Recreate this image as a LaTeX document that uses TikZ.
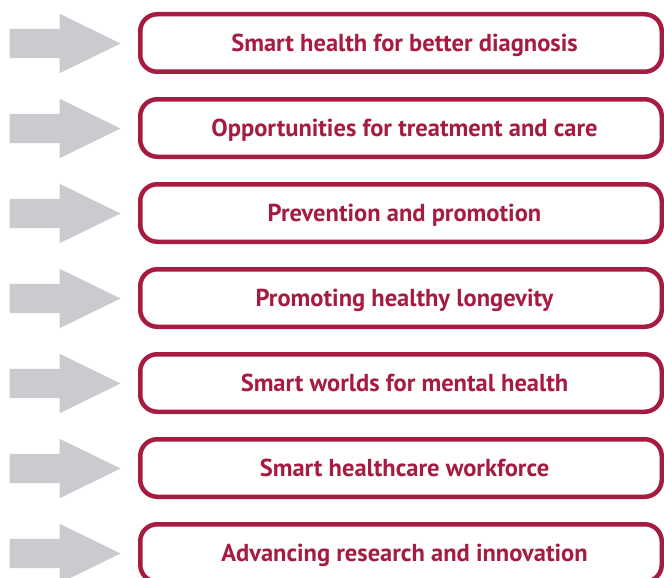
\documentclass[tikz,border=0pt]{standalone}
\usepackage{fontspec}
\setmainfont{PT Sans}
\usetikzlibrary{shapes.arrows}
\definecolor{crimson}{HTML}{A61C41}
\definecolor{arrowgray}{HTML}{C9CBCE}
\begin{document}
\begin{tikzpicture}[x=1pt, y=1pt,
	goal/.style = {draw=crimson, line width=4.5pt, rounded corners=17pt, fill=white,
		minimum width=521.5pt, minimum height=57.5pt, inner sep=0pt,
		text height=20pt, text depth=2.6pt,
		execute at begin node={\hspace*{7pt}},
		text=crimson, font=\fontsize{24.5}{28}\selectfont\bfseries},
	pointer/.style = {single arrow, fill=arrowgray, draw=none, anchor=tip,
		inner xsep=0pt, inner ysep=14.5pt,
		minimum height=111pt, minimum width=59pt,
		single arrow head extend=15pt, single arrow tip angle=52}]

		\clip (0,0) rectangle (664,-578);
		\useasboundingbox (0,0) rectangle (664,-578);

		\node[goal] (G1) at (401,-43) {Smart health for better diagnosis};
		\node[goal] (G2) at (401,-128) {Opportunities for treatment and care};
		\node[goal] (G3) at (401,-213) {Prevention and promotion};
		\node[goal] (G4) at (401,-298) {Promoting healthy longevity};
		\node[goal] (G5) at (401,-383) {Smart worlds for mental health};
		\node[goal] (G6) at (401,-468) {Smart healthcare workforce};
		\node[goal] (G7) at (401,-553) {Advancing research and innovation};

		\node[pointer] (P1) at (121,-43.5) {};
		\node[pointer] (P2) at (121,-128.5) {};
		\node[pointer] (P3) at (121,-213.5) {};
		\node[pointer] (P4) at (121,-298.5) {};
		\node[pointer] (P5) at (121,-383.5) {};
		\node[pointer] (P6) at (121,-468.5) {};
		\node[pointer] (P7) at (121,-553.5) {};
	\end{tikzpicture}
\end{document}
